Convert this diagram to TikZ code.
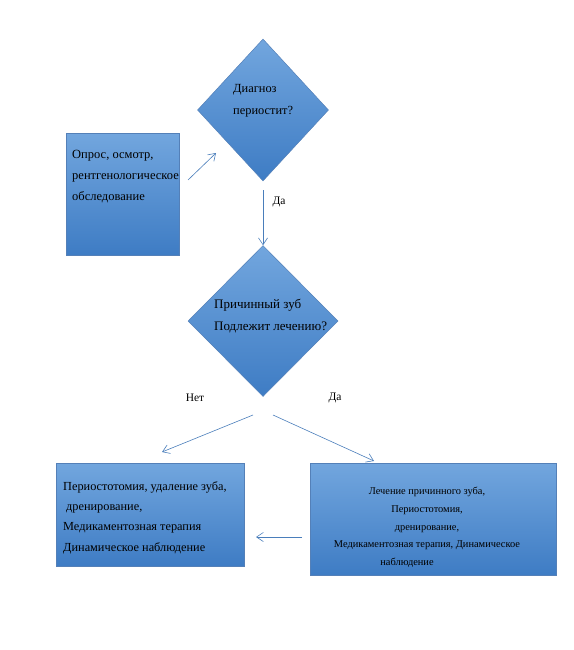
\documentclass[tikz,border=0pt]{standalone}
\usepackage{fontspec}
\setmainfont{Liberation Serif}
\usetikzlibrary{arrows.meta,shapes.geometric}
\definecolor{boxtop}{RGB}{114,166,222}
\definecolor{boxbot}{RGB}{62,124,196}
\definecolor{boxline}{RGB}{84,128,184}
\definecolor{arrowblue}{RGB}{74,126,187}

\begin{document}
\begin{tikzpicture}[x=1pt,y=-1pt,box/.style={draw=boxline,line width=0.5pt,top color=boxtop,bottom color=boxbot,inner sep=0pt},rhomb/.style={diamond,draw=boxline,line width=0.5pt,top color=boxtop,bottom color=boxbot,inner sep=0pt},txt/.style={align=left,inner sep=0pt,font=\fontsize{12.5}{21}\selectfont},arrow/.style={-{Straight Barb[length=2.4mm,width=3.2mm]},line width=0.6pt,draw=arrowblue}]
\useasboundingbox (0,0) rectangle (573,650);
\node[box,minimum width=113pt,minimum height=122pt] (exam) at (122.5,194) {};
\node[rhomb,minimum width=131pt,minimum height=142pt] (diag) at (263,110) {};
\node[rhomb,minimum width=150pt,minimum height=151pt] (tooth) at (263,321) {};
\node[box,minimum width=188pt,minimum height=103pt] (nobox) at (150,514.5) {};
\node[box,minimum width=246pt,minimum height=112pt] (yesbox) at (433,519) {};
\node[txt,anchor=west] (examtxt) at (72,177) {Опрос, осмотр,\\рентгенологическое\\обследование};
\node[txt,anchor=west,font=\fontsize{12.4}{22}\selectfont] (diagtxt) at (233,101) {Диагноз\\периостит?};
\node[txt,anchor=west,font=\fontsize{13}{22}\selectfont] (toothtxt) at (214,316) {Причинный зуб\\Подлежит лечению?};
\node[txt,anchor=west,font=\fontsize{12.3}{20.3}\selectfont] (notxt) at (63,517.5) {Периостотомия, удаление зуба,\\\hspace*{3pt}дренирование,\\Медикаментозная терапия\\Динамическое наблюдение};
\node[txt,align=center,font=\fontsize{10.4}{17.75}\selectfont] (yestxt) at (427,527.5) {Лечение причинного зуба,\\Периостотомия,\\дренирование,\\Медикаментозная терапия, Динамическое\\наблюдение\hspace*{40pt}};
\node[font=\fontsize{11.5}{13}\selectfont] (yes1) at (279,202) {Да};
\node[font=\fontsize{11.5}{13}\selectfont] (no2) at (195,398) {Нет};
\node[font=\fontsize{11.5}{13}\selectfont] (yes2) at (335,398) {Да};
% free ends of the connectors
\coordinate (examout) at (188,180);
\coordinate (diagin) at (216,153);
\coordinate (noout) at (253,415);
\coordinate (noin) at (162,452);
\coordinate (yesout) at (273,415);
\coordinate (yesin) at (374,461);
\coordinate (backout) at (302,537);
\coordinate (backin) at (256,537);
\draw[arrow] (examout) -- (diagin);
\draw[arrow,shorten <=9pt] (diag) -- (tooth);
\draw[arrow] (noout) -- (noin);
\draw[arrow] (yesout) -- (yesin);
\draw[arrow] (backout) -- (backin);
\end{tikzpicture}
\end{document}
